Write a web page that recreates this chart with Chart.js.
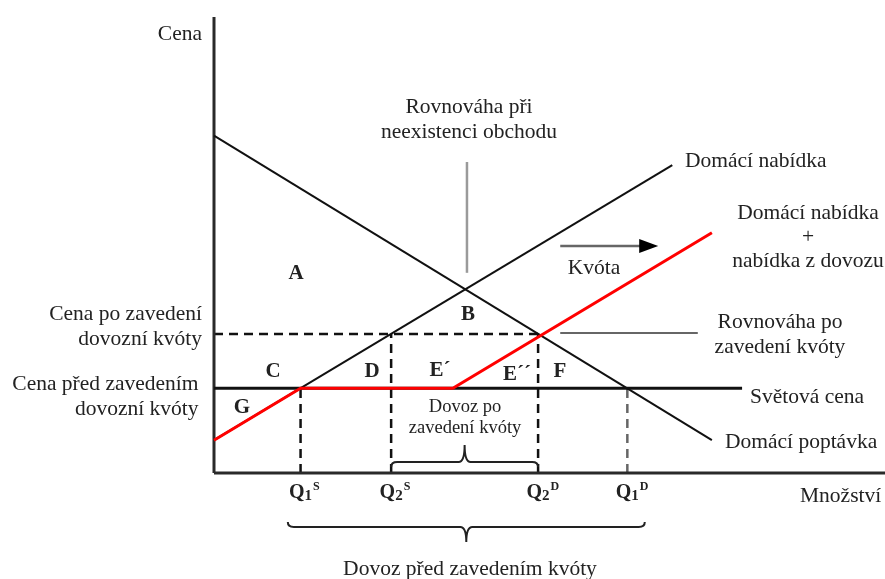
<!DOCTYPE html>
<html><head><meta charset="utf-8">
<script src="https://cdn.jsdelivr.net/npm/chart.js@4.4.1/dist/chart.umd.min.js"></script>
<style>html,body{margin:0;padding:0;background:#fff;}#wrap{width:885px;height:579px;}</style>
</head><body><div id="wrap"><canvas id="c" width="885" height="579"></canvas></div>
<script>
// ---- Data (quantity on x, price on y, arbitrary units 0..100) ----
const worldPrice = 18.6;
const quotaPrice = 30.5;
const quantityNames = ['Q1S', 'Q2S', 'Q2D', 'Q1D'];
const quantityValues = [12.9, 26.4, 48.3, 61.6];
const quantityPrices = [18.6, 30.5, 30.5, 18.6];
const domesticDemand = [{x: 0, y: 74}, {x: 74.2, y: 7.2}];
const domesticSupply = [{x: 0, y: 7.2}, {x: 68.3, y: 67.5}];
const supplyPlusImports = [{x: 0, y: 7.2}, {x: 12.9, y: 18.6}, {x: 35.6, y: 18.6}, {x: 74.2, y: 52.7}];
const worldPriceEnd = 78.7;

// ---- Annotation layout (data coordinates) ----
const F = '"Liberation Serif", "Times New Roman", serif';
const texts = [
  {t: 'Cena', x: -1.79, y: 94.96, a: 'right'},
  {t: 'Rovnováha při', x: 38.0, y: 78.95, a: 'center'},
  {t: 'neexistenci obchodu', x: 38.0, y: 73.46, a: 'center'},
  {t: 'Domácí nabídka', x: 70.19, y: 67.1, a: 'left'},
  {t: 'Domácí nabídka', x: 88.52, y: 55.7, a: 'center'},
  {t: '+', x: 88.52, y: 50.44, a: 'center'},
  {t: 'nabídka z dovozu', x: 88.52, y: 45.18, a: 'center'},
  {t: 'Kvóta', x: 56.63, y: 43.64, a: 'center'},
  {t: 'Rovnováha po', x: 84.35, y: 31.8, a: 'center'},
  {t: 'zavedení kvóty', x: 84.35, y: 26.32, a: 'center'},
  {t: 'Světová cena', x: 79.88, y: 15.35, a: 'left'},
  {t: 'Domácí poptávka', x: 76.15, y: 5.48, a: 'left'},
  {t: 'Množství', x: 87.33, y: -6.36, a: 'left'},
  {t: 'Cena po zavedení', x: -1.79, y: 33.55, a: 'right'},
  {t: 'dovozní kvóty', x: -1.79, y: 28.07, a: 'right'},
  {t: 'Cena před zavedením', x: -2.3, y: 18.2, a: 'right'},
  {t: 'dovozní kvóty', x: -2.3, y: 12.72, a: 'right'},
  {t: 'Dovoz po', x: 37.41, y: 13.38, a: 'center', s: 18.5},
  {t: 'zavedení kvóty', x: 37.41, y: 8.77, a: 'center', s: 18.5},
  {t: 'Dovoz před zavedením kvóty', x: 38.15, y: -22.37, a: 'center'}
];
const areaLetters = [
  {t: 'A', x: 12.22, y: 42.54}, {t: 'B', x: 37.85, y: 33.55},
  {t: 'C', x: 8.79, y: 21.05}, {t: 'D', x: 23.55, y: 21.05},
  {t: 'E´', x: 33.68, y: 21.27}, {t: 'E´´', x: 45.16, y: 20.39},
  {t: 'F', x: 51.56, y: 21.05}, {t: 'G', x: 4.17, y: 13.16}
];
const qLabelY = -5.48;
const smallBrace = {from: 26.4, to: 48.3, end: 1.32, line: 2.41, tip: 6.14};
const bigBrace = {from: 11.0, to: 64.2, end: -10.75, line: -11.84, tip: -15.13};
const noTradeLeader = {x: 37.7, y1: 68.2, y2: 43.9};
const quotaEqLeader = {x1: 51.6, x2: 72.1, y: 30.7};
const quotaArrow = {x1: 51.6, x2: 66.2, y: 49.8};

// lower "order" is drawn on top in Chart.js
function seg(data, color, width, dash, order) {
  return {data, borderColor: color, borderWidth: width, borderDash: dash || [],
          showLine: true, pointRadius: 0, fill: false, clip: false, tension: 0,
          order: order === undefined ? 5 : order};
}
const dashed = [9, 6];
const datasets = [
  seg([{x: 0, y: 0}, {x: 0, y: 100}], '#2a2a2a', 3, null, 4),
  seg([{x: 0, y: 0}, {x: 100, y: 0}], '#2a2a2a', 3, null, 4),
  seg([{x: 0, y: quotaPrice}, {x: quantityValues[2], y: quotaPrice}], '#111', 2.5, dashed, 6)
];
quantityValues.forEach((q, i) => {
  datasets.push(seg([{x: q, y: 0}, {x: q, y: quantityPrices[i]}], i === 3 ? '#666' : '#111', 2.5, dashed, 6));
});
datasets.push(seg([{x: 0, y: worldPrice}, {x: worldPriceEnd, y: worldPrice}], '#111', 3, null, 3));
datasets.push(seg(domesticSupply, '#111', 2, null, 3));
datasets.push(seg(domesticDemand, '#111', 2, null, 3));
datasets.push(seg(supplyPlusImports, '#ff0000', 3, null, 0));

function brace(ctx, X, Y, b) {
  const x1 = X(b.from), x2 = X(b.to), xm = (x1 + x2) / 2;
  const ye = Y(b.end), yl = Y(b.line), yt = Y(b.tip);
  const r = 6;
  ctx.beginPath();
  ctx.moveTo(x1, ye);
  ctx.quadraticCurveTo(x1, yl, x1 + r, yl);
  ctx.lineTo(xm - r, yl);
  ctx.quadraticCurveTo(xm, yl, xm, yt);
  ctx.quadraticCurveTo(xm, yl, xm + r, yl);
  ctx.lineTo(x2 - r, yl);
  ctx.quadraticCurveTo(x2, yl, x2, ye);
  ctx.stroke();
}

const annot = {
  id: 'annot',
  afterDatasetsDraw(chart) {
    const {ctx, scales: {x, y}} = chart;
    const X = v => x.getPixelForValue(v), Y = v => y.getPixelForValue(v);
    ctx.save();
    // leader lines
    ctx.lineWidth = 2.5; ctx.strokeStyle = '#9a9a9a';
    ctx.beginPath(); ctx.moveTo(X(noTradeLeader.x), Y(noTradeLeader.y1)); ctx.lineTo(X(noTradeLeader.x), Y(noTradeLeader.y2)); ctx.stroke();
    ctx.lineWidth = 2; ctx.strokeStyle = '#666';
    ctx.beginPath(); ctx.moveTo(X(quotaEqLeader.x1), Y(quotaEqLeader.y)); ctx.lineTo(X(quotaEqLeader.x2), Y(quotaEqLeader.y)); ctx.stroke();
    // quota arrow
    const ax2 = X(quotaArrow.x2), ay = Y(quotaArrow.y);
    ctx.lineWidth = 2.5; ctx.strokeStyle = '#666';
    ctx.beginPath(); ctx.moveTo(X(quotaArrow.x1), ay); ctx.lineTo(ax2 - 16, ay); ctx.stroke();
    ctx.fillStyle = '#000';
    ctx.beginPath(); ctx.moveTo(ax2, ay); ctx.lineTo(ax2 - 19, ay - 7); ctx.lineTo(ax2 - 19, ay + 7); ctx.closePath(); ctx.fill();
    // braces
    ctx.strokeStyle = '#222'; ctx.lineWidth = 2;
    brace(ctx, X, Y, smallBrace);
    brace(ctx, X, Y, bigBrace);
    // texts
    ctx.fillStyle = '#222';
    ctx.textBaseline = 'alphabetic';
    texts.forEach(o => {
      ctx.font = (o.s || 21.5) + 'px ' + F;
      ctx.textAlign = o.a;
      ctx.fillText(o.t, X(o.x), Y(o.y));
    });
    ctx.font = 'bold 21px ' + F; ctx.textAlign = 'center';
    areaLetters.forEach(o => ctx.fillText(o.t, X(o.x), Y(o.y)));
    // quantity labels Q1S etc.
    quantityNames.forEach((n, i) => {
      const cx = X(quantityValues[i]), by = Y(qLabelY);
      ctx.font = 'bold 20px ' + F;
      const wQ = ctx.measureText('Q').width;
      ctx.font = 'bold 15px ' + F;
      const wd = ctx.measureText(n[1]).width;
      const start = cx - (wQ + wd) / 2;
      ctx.textAlign = 'left';
      ctx.font = 'bold 20px ' + F; ctx.fillText('Q', start, by);
      ctx.font = 'bold 15px ' + F; ctx.fillText(n[1], start + wQ, by + 2);
      ctx.font = 'bold 12px ' + F; ctx.fillText(n[2], start + wQ + wd + 1, by - 8);
    });
    ctx.restore();
  }
};

new Chart(document.getElementById('c'), {
  type: 'scatter',
  data: {datasets},
  options: {
    responsive: false, animation: false,
    layout: {padding: {left: 214, top: 17, right: 0, bottom: 106}},
    scales: {
      x: {type: 'linear', min: 0, max: 100, display: false},
      y: {type: 'linear', min: 0, max: 100, display: false}
    },
    plugins: {legend: {display: false}, tooltip: {enabled: false}}
  },
  plugins: [annot]
});
</script></body></html>
